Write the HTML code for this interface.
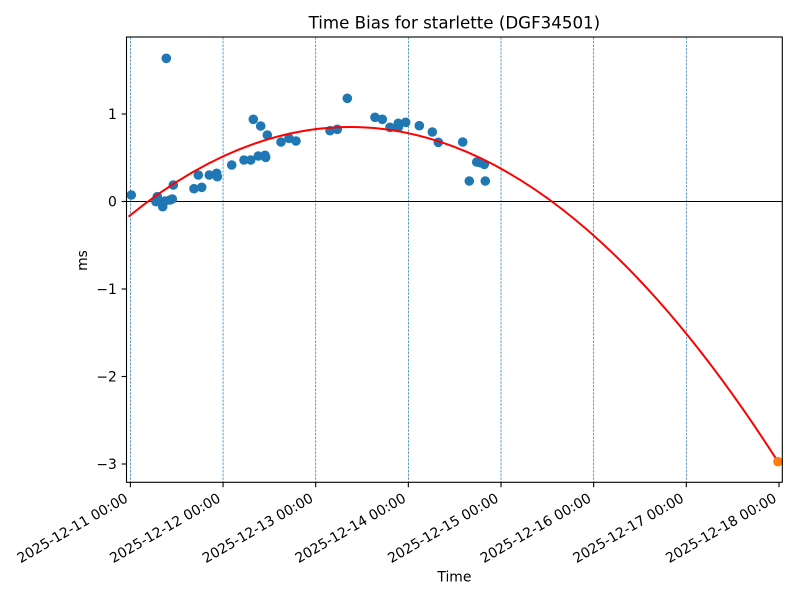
<!DOCTYPE html>
<html>
<head>
<meta charset="utf-8">
<style>
html,body{margin:0;padding:0;background:#fff;}
svg{display:block;}
text{font-family:"DejaVu Sans","Liberation Sans",sans-serif;fill:#000;}
</style>
</head>
<body>
<svg width="800" height="600" viewBox="0 0 800 600" xmlns="http://www.w3.org/2000/svg">
<rect x="0" y="0" width="800" height="600" fill="#fff"/>

<g stroke="#1f77b4" stroke-width="0.7" stroke-dasharray="2.6 1.1" fill="none">
<line x1="130.4" y1="37" x2="130.4" y2="482.3"/>
<line x1="223.05" y1="37" x2="223.05" y2="482.3"/>
<line x1="315.7" y1="37" x2="315.7" y2="482.3"/>
<line x1="408.35" y1="37" x2="408.35" y2="482.3"/>
<line x1="501" y1="37" x2="501" y2="482.3"/>
<line x1="593.65" y1="37" x2="593.65" y2="482.3"/>
<line x1="686.3" y1="37" x2="686.3" y2="482.3"/>
</g>

<line x1="126.5" y1="201.5" x2="782.3" y2="201.5" stroke="#000" stroke-width="1"/>

<g fill="#1f77b4">
<circle cx="131.3" cy="195" r="4.8"/>
<circle cx="166.3" cy="58.3" r="4.8"/>
<circle cx="157.3" cy="196.7" r="4.8"/>
<circle cx="156" cy="201.7" r="4.8"/>
<circle cx="160" cy="201.7" r="4.8"/>
<circle cx="162.7" cy="206.7" r="4.8"/>
<circle cx="165" cy="201" r="4.8"/>
<circle cx="170" cy="200" r="4.8"/>
<circle cx="172.3" cy="199" r="4.8"/>
<circle cx="173.3" cy="185" r="4.8"/>
<circle cx="194" cy="188.7" r="4.8"/>
<circle cx="201.7" cy="187.3" r="4.8"/>
<circle cx="198.3" cy="175" r="4.8"/>
<circle cx="209.3" cy="175" r="4.8"/>
<circle cx="216.7" cy="173.3" r="4.8"/>
<circle cx="217.3" cy="176.7" r="4.8"/>
<circle cx="231.7" cy="165" r="4.8"/>
<circle cx="244" cy="160" r="4.8"/>
<circle cx="250.7" cy="160" r="4.8"/>
<circle cx="258.3" cy="156" r="4.8"/>
<circle cx="265" cy="155.3" r="4.8"/>
<circle cx="265.7" cy="157.3" r="4.8"/>
<circle cx="253.3" cy="119.3" r="4.8"/>
<circle cx="260.7" cy="126" r="4.8"/>
<circle cx="267.3" cy="135" r="4.8"/>
<circle cx="281" cy="142" r="4.8"/>
<circle cx="289" cy="138.3" r="4.8"/>
<circle cx="296" cy="141" r="4.8"/>
<circle cx="330" cy="130.7" r="4.8"/>
<circle cx="337.3" cy="129.3" r="4.8"/>
<circle cx="347.3" cy="98.3" r="4.8"/>
<circle cx="375" cy="117.3" r="4.8"/>
<circle cx="382.3" cy="119.3" r="4.8"/>
<circle cx="390" cy="127.3" r="4.8"/>
<circle cx="398.3" cy="123.3" r="4.8"/>
<circle cx="398.3" cy="127.3" r="4.8"/>
<circle cx="405.7" cy="122.3" r="4.8"/>
<circle cx="419.3" cy="125.7" r="4.8"/>
<circle cx="432.3" cy="132" r="4.8"/>
<circle cx="438.3" cy="142.3" r="4.8"/>
<circle cx="462.7" cy="142" r="4.8"/>
<circle cx="476.7" cy="162" r="4.8"/>
<circle cx="480" cy="162.7" r="4.8"/>
<circle cx="484.3" cy="164.3" r="4.8"/>
<circle cx="469.3" cy="181" r="4.8"/>
<circle cx="485.3" cy="181" r="4.8"/>
</g>

<path d="M128.5,216.6 Q453.25,-46.2 778,461.7" fill="none" stroke="#ff0000" stroke-width="2"/>

<circle cx="778" cy="461.7" r="4.8" fill="#ff7f0e"/>

<rect x="126.5" y="37" width="655.8" height="445.3" fill="none" stroke="#000" stroke-width="1.1"/>

<g stroke="#000" stroke-width="1.1">
<line x1="130.4" y1="482.3" x2="130.4" y2="487.2"/>
<line x1="223.05" y1="482.3" x2="223.05" y2="487.2"/>
<line x1="315.7" y1="482.3" x2="315.7" y2="487.2"/>
<line x1="408.35" y1="482.3" x2="408.35" y2="487.2"/>
<line x1="501" y1="482.3" x2="501" y2="487.2"/>
<line x1="593.65" y1="482.3" x2="593.65" y2="487.2"/>
<line x1="686.3" y1="482.3" x2="686.3" y2="487.2"/>
<line x1="779" y1="482.3" x2="779" y2="487.2"/>
</g>

<g stroke="#000" stroke-width="1.1">
<line x1="121.6" y1="114" x2="126.5" y2="114"/>
<line x1="121.6" y1="201.5" x2="126.5" y2="201.5"/>
<line x1="121.6" y1="289" x2="126.5" y2="289"/>
<line x1="121.6" y1="376.5" x2="126.5" y2="376.5"/>
<line x1="121.6" y1="464" x2="126.5" y2="464"/>
</g>

<g font-size="13.89" text-anchor="end">
<text x="116.8" y="119">1</text>
<text x="116.8" y="206.5">0</text>
<text x="116.8" y="294">−1</text>
<text x="116.8" y="381.5">−2</text>
<text x="116.8" y="469">−3</text>
</g>

<g font-size="13.89" text-anchor="end">
<text transform="translate(128.9,500.9) rotate(-30)">2025-12-11 00:00</text>
<text transform="translate(221.55,500.9) rotate(-30)">2025-12-12 00:00</text>
<text transform="translate(314.2,500.9) rotate(-30)">2025-12-13 00:00</text>
<text transform="translate(406.85,500.9) rotate(-30)">2025-12-14 00:00</text>
<text transform="translate(499.5,500.9) rotate(-30)">2025-12-15 00:00</text>
<text transform="translate(592.15,500.9) rotate(-30)">2025-12-16 00:00</text>
<text transform="translate(684.8,500.9) rotate(-30)">2025-12-17 00:00</text>
<text transform="translate(777.5,500.9) rotate(-30)">2025-12-18 00:00</text>
</g>

<text x="454.4" y="581.7" font-size="13.89" text-anchor="middle">Time</text>
<text transform="translate(87,260.5) rotate(-90)" font-size="13.89" text-anchor="middle">ms</text>

<text x="454.4" y="28.7" font-size="16.67" text-anchor="middle">Time Bias for starlette (DGF34501)</text>
</svg>
</body>
</html>
